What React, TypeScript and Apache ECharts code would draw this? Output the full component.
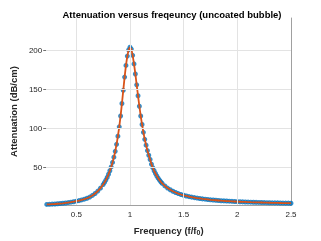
import React, { useEffect, useRef } from 'react';
import * as echarts from 'echarts';

const freq = [
  0.225, 0.25, 0.275, 0.3, 0.325, 0.35, 0.375, 0.4, 0.425, 0.45, 0.475, 0.5,
  0.525, 0.55, 0.575, 0.6, 0.625, 0.65, 0.675, 0.7, 0.725, 0.75,
  0.7625, 0.775, 0.7875, 0.8, 0.8125, 0.825, 0.8375, 0.85, 0.8625, 0.875, 0.8875, 0.9,
  0.9125, 0.925, 0.9375, 0.95, 0.9625, 0.975, 0.9875, 1.0,
  1.0125, 1.025, 1.0375, 1.05, 1.0625, 1.075, 1.0875, 1.1, 1.1125, 1.125, 1.1375, 1.15,
  1.1625, 1.175, 1.1875, 1.2, 1.2125, 1.225, 1.2375, 1.25, 1.2625, 1.275, 1.2875, 1.3,
  1.325, 1.35, 1.375, 1.4, 1.425, 1.45, 1.475, 1.5, 1.525, 1.55, 1.575, 1.6,
  1.625, 1.65, 1.675, 1.7, 1.725, 1.75, 1.775, 1.8, 1.825, 1.85, 1.875, 1.9,
  1.925, 1.95, 1.975, 2.0, 2.025, 2.05, 2.075, 2.1, 2.125, 2.15, 2.175, 2.2,
  2.225, 2.25, 2.275, 2.3, 2.325, 2.35, 2.375, 2.4, 2.425, 2.45, 2.475, 2.5,
];

const atten = [
  2.2, 2.4, 2.6, 2.8, 3.1, 3.4, 3.7, 4.1, 4.6, 5.1, 5.7, 6.4,
  7.1, 8.0, 9.0, 10.2, 11.7, 13.8, 16.3, 19.4, 23.2, 27.8,
  30.5, 33.6, 37.0, 41.0, 45.5, 50.5, 56.3, 63, 70.5, 79.5, 90, 102,
  116, 132, 149, 166, 181, 193, 201, 204.5,
  202, 194, 183, 170, 156, 142, 128.5, 116, 105, 95, 86, 78.5,
  71.5, 65.5, 60, 54, 49.5, 45.5, 42, 38.8, 36, 33.5, 31.3, 29.3,
  26, 23.3, 21.1, 19.2, 17.6, 16.2, 15, 14, 13.1, 12.3, 11.6, 11.0,
  10.4, 9.9, 9.4, 9.0, 8.6, 8.2, 7.9, 7.6, 7.3, 7.0, 6.8, 6.6,
  6.4, 6.2, 6.0, 5.8, 5.7, 5.5, 5.4, 5.3, 5.1, 5.0, 4.9, 4.8,
  4.7, 4.6, 4.5, 4.4, 4.3, 4.2, 4.2, 4.1, 4.0, 3.9, 3.9, 3.8,
];

const xTicks = [0.5, 1, 1.5, 2, 2.5];
const yTicks = [50, 100, 150, 200];

export default function App() {
  const ref = useRef<HTMLDivElement>(null);
  useEffect(() => {
    if (!ref.current) return;
    const chart = echarts.init(ref.current, undefined, { renderer: 'svg' });
    const pts = freq.map((f, i) => [f, atten[i]]);
    const gridColor = '#e3e3e3';
    chart.setOption({
      animation: false,
      title: {
        text: 'Attenuation versus freqeuncy (uncoated bubble)',
        left: 167,
        textAlign: 'center',
        top: 4,
        textStyle: { fontFamily: 'Liberation Sans', fontSize: 9.5, fontWeight: 'bold', color: '#000' },
      },
      grid: { left: 43, right: 30, top: 18, bottom: 33 },
      xAxis: {
        type: 'value',
        min: 0.22,
        max: 2.5,
        name: 'Frequency (f/f{sub|0})',
        nameLocation: 'middle',
        nameGap: 19,
        nameTextStyle: {
          fontFamily: 'Liberation Sans', fontSize: 9.5, fontWeight: 'bold', color: '#262626',
          rich: { sub: { fontSize: 7, fontWeight: 'bold', verticalAlign: 'bottom', padding: [5, 0, 0, 0], color: '#262626', fontFamily: 'Liberation Sans' } },
        },
        axisLine: { show: true, lineStyle: { color: '#a0a0a0', width: 1 } },
        axisTick: { show: true, inside: true, length: 3, customValues: xTicks, lineStyle: { color: '#a0a0a0' } },
        axisLabel: { customValues: xTicks, fontFamily: 'Liberation Sans', fontSize: 8, color: '#262626', margin: 5 },
        splitLine: { show: false },
      },
      yAxis: [
        {
          type: 'value',
          min: 1.5,
          max: 242,
          name: 'Attenuation (dB/cm)',
          nameLocation: 'middle',
          nameGap: 25,
          nameRotate: 90,
          nameTextStyle: { fontFamily: 'Liberation Sans', fontSize: 9.5, fontWeight: 'bold', color: '#262626' },
          axisLine: { show: false },
          axisTick: { show: true, inside: false, length: 3, customValues: yTicks, lineStyle: { color: '#707070' } },
          axisLabel: { customValues: yTicks, fontFamily: 'Liberation Sans', fontSize: 8, color: '#262626', margin: 4 },
          splitLine: { show: false },
        },
        {
          type: 'value',
          min: 1.5,
          max: 242,
          position: 'right',
          axisLine: { show: true, lineStyle: { color: '#a0a0a0', width: 1 } },
          axisTick: { show: false },
          axisLabel: { show: false },
          splitLine: { show: false },
        },
      ],
      series: [
        {
          type: 'line',
          data: [],
          z: 1,
          silent: true,
          markLine: {
            silent: true,
            symbol: 'none',
            label: { show: false },
            lineStyle: { color: gridColor, width: 1, type: 'solid' },
            data: [
              ...xTicks.slice(0, 4).map((v) => ({ xAxis: v })),
              ...yTicks.map((v) => ({ yAxis: v })),
            ],
          },
        },
        {
          type: 'scatter',
          data: pts,
          symbol: 'circle',
          symbolSize: 5,
          itemStyle: { color: '#0072BD' },
          z: 3,
          silent: true,
        },
        {
          type: 'line',
          data: pts,
          showSymbol: false,
          symbol: 'none',
          smooth: false,
          lineStyle: { color: '#D95319', width: 1.8 },
          z: 4,
          silent: true,
        },
      ],
    });
    return () => chart.dispose();
  }, []);
  return (
    <div
      ref={ref}
      style={{ position: 'fixed', left: 0, top: 0, width: 321, height: 241 }}
    />
  );
}
